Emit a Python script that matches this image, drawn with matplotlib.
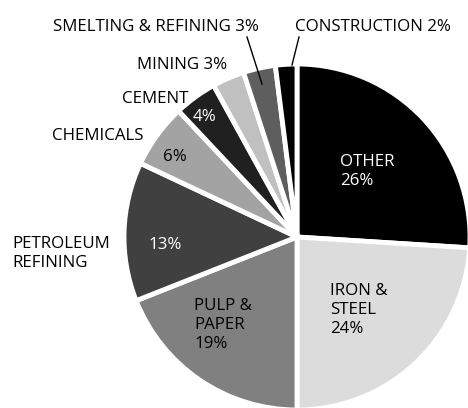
import matplotlib.pyplot as plt

# sector shares (%) going clockwise from 12 o'clock
sectors = ["OTHER", "IRON & STEEL", "PULP & PAPER", "PETROLEUM REFINING", "CHEMICALS",
           "CEMENT", "MINING", "SMELTING & REFINING", "CONSTRUCTION"]
shares = [26, 24, 19, 13, 6, 4, 3, 3, 2]
shades = ["#000000", "#dcdcdc", "#808080", "#404040", "#a3a3a3",
          "#202020", "#c0c0c0", "#5e5e5e", "#000000"]

plt.rcParams['font.family'] = ['Open Sans', 'DejaVu Sans']

W, H = 468, 408
fig = plt.figure(figsize=(W / 100, H / 100), dpi=100)
ax = fig.add_axes([0, 0, 1, 1])

cx, cy, r = 297, H - 237, 173
ax.pie(shares, colors=shades, startangle=90, counterclock=False,
       center=(cx, cy), radius=r, frame=True,
       wedgeprops=dict(edgecolor="white", linewidth=3.5))
ax.set_xlim(0, W)
ax.set_ylim(0, H)
ax.set_aspect("equal")
ax.axis("off")

fs = 12.2


def txt(x, y, s, color="black"):
    # x, y in image pixels (top-left origin), y = center of first line
    ax.text(x, H - (y - 6), s, color=color, fontsize=fs, ha="left", va="top",
            linespacing=1.25)


txt(340, 160, "OTHER\n26%", "white")
txt(330, 289, "IRON &\nSTEEL\n24%")
txt(194, 304, "PULP &\nPAPER\n19%")
txt(148, 243, f"{shares[3]}%", "white")
txt(163, 155, f"{shares[4]}%")
txt(193, 115, f"{shares[5]}%", "white")
txt(12, 242, "PETROLEUM\nREFINING")
txt(52, 134, "CHEMICALS")
txt(122, 97, "CEMENT")
txt(137, 63, f"MINING {shares[6]}%")
txt(53, 25, f"SMELTING & REFINING {shares[7]}%")
txt(295, 25, f"CONSTRUCTION {shares[8]}%")

ax.plot([247, 262], [H - 37, H - 84], color="black", lw=1)
ax.plot([299, 292], [H - 37, H - 65], color="black", lw=1)

fig.savefig("out.png", dpi=100)
